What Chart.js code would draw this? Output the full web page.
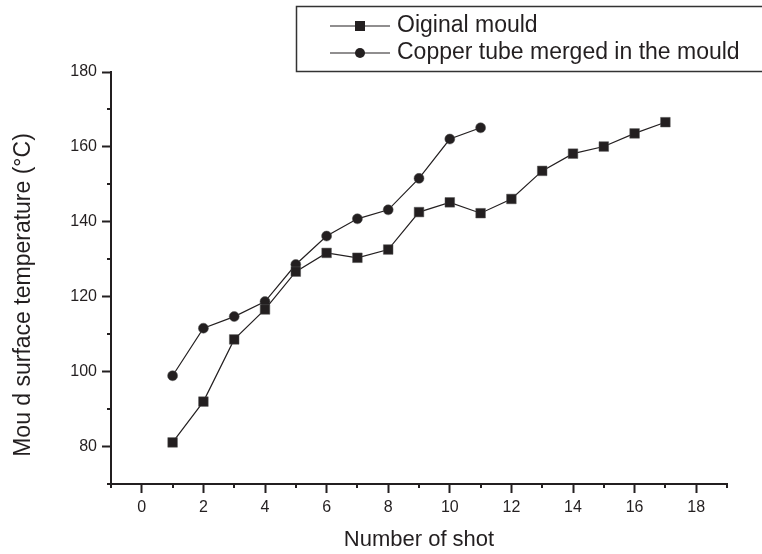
<!DOCTYPE html>
<html>
<head>
<meta charset="utf-8">
<script src="https://cdn.jsdelivr.net/npm/chart.js@4"></script>
<style>
  html, body { margin: 0; padding: 0; background: #fff; }
  #wrap { width: 762px; height: 554px; position: relative; }
</style>
</head>
<body>
<div id="wrap"><canvas id="chart"></canvas></div>
<script>
const shots = [1, 2, 3, 4, 5, 6, 7, 8, 9, 10, 11, 12, 13, 14, 15, 16, 17];
const originalMould = [81.1, 92, 108.6, 116.6, 126.7, 131.7, 130.4, 132.6, 142.6, 145.2, 142.3, 146.1, 153.6, 158.2, 160.1, 163.6, 166.6];
const copperTube = [98.9, 111.6, 114.7, 118.7, 128.6, 136.2, 140.8, 143.2, 151.6, 162.1, 165.1];
const seriesNames = ['Oiginal mould', 'Copper tube merged in the mould'];
const xTitle = 'Number of shot';
const yTitle = 'Mou d surface temperature (°C)';

const ink = '#231f20';
const fontFamily = '"Liberation Sans", Arial, Helvetica, sans-serif';

function toPoints(values) {
  return values.map((v, i) => ({ x: shots[i], y: v }));
}

// short ticks for the unlabeled (minor) steps
const minorTicks = {
  id: 'minorTicks',
  afterDraw(chart) {
    const ctx = chart.ctx;
    const xs = chart.scales.x;
    const ys = chart.scales.y;
    ctx.save();
    ctx.strokeStyle = ink;
    ctx.lineWidth = 2;
    xs.ticks.forEach(t => {
      if (t.value % 2 === 0) return;
      const px = Math.round(xs.getPixelForValue(t.value));
      ctx.beginPath();
      ctx.moveTo(px, ys.bottom);
      ctx.lineTo(px, ys.bottom + 4);
      ctx.stroke();
    });
    ys.ticks.forEach(t => {
      if (t.value % 20 === 0) return;
      const py = Math.round(ys.getPixelForValue(t.value));
      ctx.beginPath();
      ctx.moveTo(xs.left, py);
      ctx.lineTo(xs.left - 4, py);
      ctx.stroke();
    });
    ctx.restore();
  }
};

// y title sits a little below the middle of the axis in the original
const yAxisTitle = {
  id: 'yAxisTitle',
  afterDraw(chart) {
    const ctx = chart.ctx;
    const ys = chart.scales.y;
    ctx.save();
    ctx.translate(24, (ys.top + ys.bottom) / 2 + 17);
    ctx.rotate(-Math.PI / 2);
    ctx.font = '23px ' + fontFamily;
    ctx.fillStyle = ink;
    ctx.textAlign = 'center';
    ctx.textBaseline = 'middle';
    ctx.fillText(yTitle, 0, 0);
    ctx.restore();
  }
};

// boxed legend in the top right corner
const boxLegend = {
  id: 'boxLegend',
  afterDraw(chart) {
    const ctx = chart.ctx;
    ctx.save();
    ctx.strokeStyle = '#333';
    ctx.lineWidth = 1.5;
    ctx.strokeRect(296.5, 6.5, 500, 65);
    const rows = [26, 53];
    chart.data.datasets.forEach((ds, i) => {
      const y = rows[i];
      ctx.strokeStyle = ink;
      ctx.lineWidth = 1.2;
      ctx.beginPath();
      ctx.moveTo(330, y);
      ctx.lineTo(390, y);
      ctx.stroke();
      ctx.fillStyle = ink;
      if (ds.pointStyle === 'rect') {
        ctx.fillRect(355, y - 5, 10, 10);
      } else {
        ctx.beginPath();
        ctx.arc(360, y, 5, 0, Math.PI * 2);
        ctx.fill();
      }
      ctx.font = '23px ' + fontFamily;
      ctx.textBaseline = 'middle';
      ctx.fillText(ds.label, 397, y);
    });
    ctx.restore();
  }
};

new Chart(document.getElementById('chart'), {
  type: 'line',
  data: {
    datasets: [
      {
        label: seriesNames[0],
        data: toPoints(originalMould),
        borderColor: ink,
        borderWidth: 1.2,
        backgroundColor: ink,
        pointStyle: 'rect',
        pointRadius: 6.8,
        pointBorderWidth: 0.5,
        pointBorderColor: '#555',
        tension: 0
      },
      {
        label: seriesNames[1],
        data: toPoints(copperTube),
        borderColor: ink,
        borderWidth: 1.2,
        backgroundColor: ink,
        pointStyle: 'circle',
        pointRadius: 5,
        pointBorderWidth: 0.5,
        pointBorderColor: '#555',
        tension: 0
      }
    ]
  },
  options: {
    responsive: true,
    maintainAspectRatio: false,
    animation: false,
    layout: { padding: { top: 72, right: 35, left: 0, bottom: 0 } },
    plugins: {
      legend: { display: false },
      tooltip: { enabled: false }
    },
    scales: {
      x: {
        type: 'linear',
        min: -1,
        max: 19,
        afterFit: s => { s.height = 70; },
        ticks: {
          stepSize: 1,
          autoSkip: false,
          maxRotation: 0,
          padding: 5,
          color: ink,
          font: { family: fontFamily, size: 16 },
          callback: v => (v % 2 === 0 ? String(v) : '')
        },
        grid: {
          drawOnChartArea: false,
          tickLength: 9,
          tickWidth: 2,
          tickColor: c => (c.tick && c.tick.value % 2 === 0 ? ink : 'rgba(0,0,0,0)')
        },
        border: { display: true, color: ink, width: 2 },
        title: {
          display: true,
          text: xTitle,
          color: ink,
          font: { family: fontFamily, size: 22 },
          padding: { top: 0, bottom: 1 }
        }
      },
      y: {
        min: 70,
        max: 180,
        afterFit: s => { s.width = 111; },
        ticks: {
          stepSize: 10,
          autoSkip: false,
          padding: 5,
          color: ink,
          font: { family: fontFamily, size: 16 },
          callback: v => (v % 20 === 0 ? String(v) : '')
        },
        grid: {
          drawOnChartArea: false,
          tickLength: 9,
          tickWidth: 2,
          tickColor: c => (c.tick && c.tick.value % 20 === 0 ? ink : 'rgba(0,0,0,0)')
        },
        border: { display: true, color: ink, width: 2 },
        title: { display: false }
      }
    }
  },
  plugins: [minorTicks, yAxisTitle, boxLegend]
});
</script>
</body>
</html>
